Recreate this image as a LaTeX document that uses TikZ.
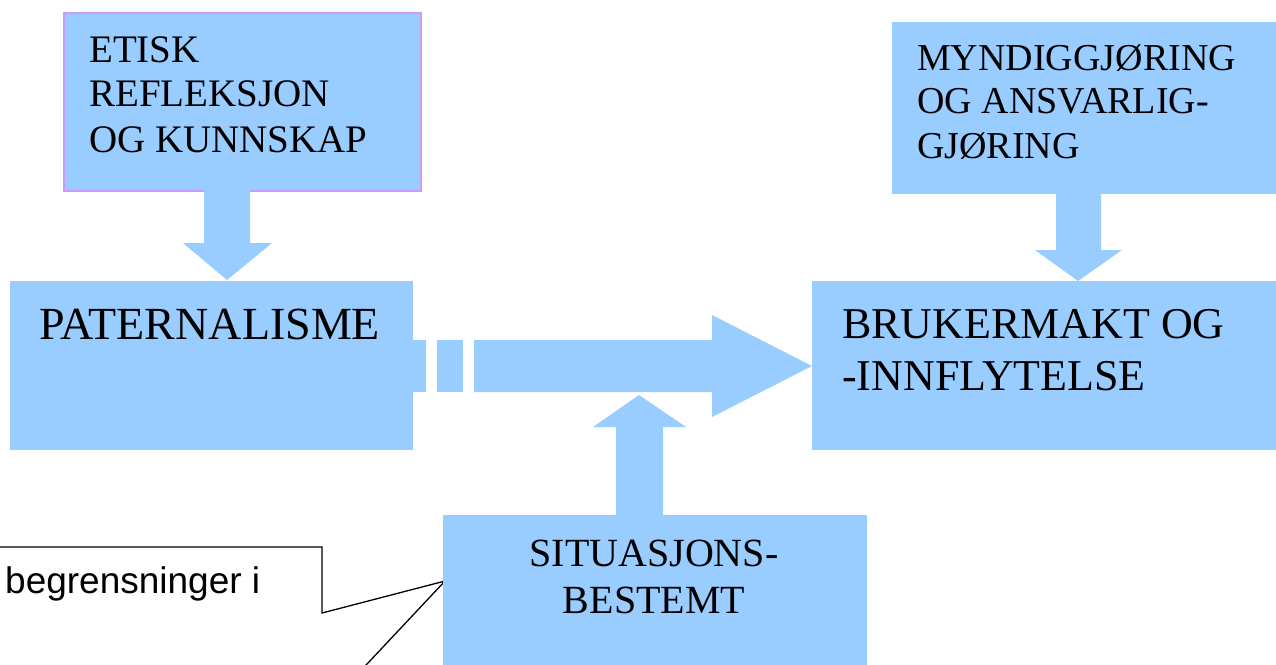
\documentclass[tikz,border=0pt]{standalone}
\usepackage{fontspec}
\setmainfont{Liberation Serif}
\newfontfamily\calloutfont{Liberation Sans}
\definecolor{boxblue}{HTML}{99CCFF}
\definecolor{boxpink}{HTML}{CC99FF}
\begin{document}
\begin{tikzpicture}[x=1pt,y=-1pt,
  bluebox/.style={fill=boxblue,draw=none,inner sep=0pt,anchor=north west},
  blockarrow/.style={fill=boxblue,draw=none},
  lbl/.style={inner sep=0pt,anchor=base west,text=black},
  fa/.style={font=\fontsize{39}{45}\selectfont},
  fb/.style={font=\fontsize{38}{44}\selectfont},
  fc/.style={font=\fontsize{44}{52}\selectfont},
  fp/.style={font=\fontsize{46}{52}\selectfont},
  fd/.style={font=\fontsize{40}{47}\selectfont},
  fe/.style={font=\calloutfont\fontsize{37}{42}\selectfont}]
\clip (0,0) rectangle (1276,664);
\fill[white] (0,0) rectangle (1276,664);
% callout
\coordinate (ctip) at (445,581);
\coordinate (cend) at (352,680);
\draw[black,line width=1.3pt,fill=white] (-10,547) -- (322,547) -- (322,613) -- (ctip) -- (cend) -- (-10,680) -- cycle;
\node[lbl,fe] (cl) at (5,593) {begrensninger i};
% boxes
\node[bluebox,draw=boxpink,line width=1.5pt,minimum width=357pt,minimum height=178pt] (etisk) at (63,12) {};
\node[bluebox,minimum width=400pt,minimum height=172pt] (mynd) at (892,22) {};
\node[bluebox,minimum width=403pt,minimum height=169pt] (pat) at (10,281) {};
\node[bluebox,minimum width=480pt,minimum height=169pt] (bruk) at (812,281) {};
\node[bluebox,minimum width=424pt,minimum height=160pt] (sit) at (443,515) {};
% down arrow from etisk to pat
\fill[blockarrow] (204,188) -- (250,188) -- (250,243) -- (272,243) -- (227,280) -- (183,243) -- (204,243) -- cycle;
% down arrow from mynd to bruk
\fill[blockarrow] (1056,192) -- (1101,192) -- (1101,250) -- (1122,250) -- (1078,281) -- (1035,250) -- (1056,250) -- cycle;
% up arrow from sit
\fill[blockarrow] (616,517) -- (663,517) -- (663,427) -- (686,427) -- (639,395) -- (593,427) -- (616,427) -- cycle;
% striped arrow pat -> bruk
\fill[blockarrow] (410,340) rectangle (426,392);
\fill[blockarrow] (437,340) rectangle (463,392);
\fill[blockarrow] (474,340) -- (712,340) -- (712,315) -- (812,366) -- (712,417) -- (712,392) -- (474,392) -- cycle;
% texts
\node[lbl,fa] (e1) at (89,62) {ETISK};
\node[lbl,fa] (e2) at (89,106) {REFLEKSJON};
\node[lbl,fa] (e3) at (89,152) {OG KUNNSKAP};
\node[lbl,fb] (m1) at (917,70) {MYNDIGGJØRING};
\node[lbl,fb] (m2) at (917,113) {OG ANSVARLIG-};
\node[lbl,fb] (m3) at (917,158) {GJØRING};
\node[lbl,fp] (p1) at (39,339) {PATERNALISME};
\node[lbl,fc] (b1) at (842,338) {BRUKERMAKT OG};
\node[lbl,fc] (b2) at (842,390) {-INNFLYTELSE};
\node[inner sep=0pt,anchor=base,fd] (s1) at (654,566) {SITUASJONS-};
\node[inner sep=0pt,anchor=base,fd] (s2) at (654,613) {BESTEMT};
\end{tikzpicture}
\end{document}
